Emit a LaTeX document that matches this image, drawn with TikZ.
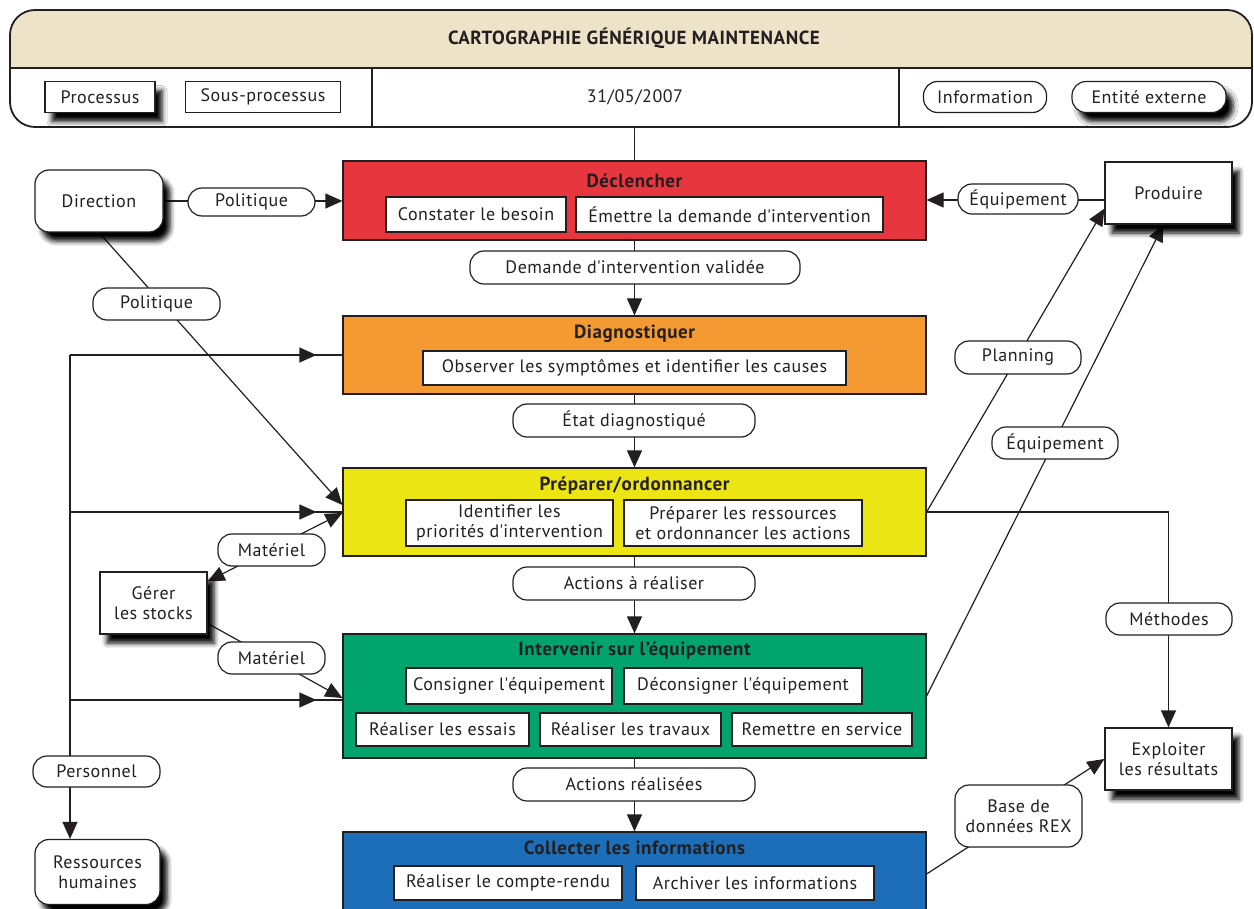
\documentclass[tikz,border=0pt]{standalone}
\usepackage{fontspec}
\setmainfont{PT Sans}[LetterSpace=3]
\usetikzlibrary{arrows.meta,calc,shadows.blur,decorations.markings}

\definecolor{ink}{HTML}{231F20}
\definecolor{beige}{HTML}{EDE3C8}
\definecolor{cRed}{HTML}{E8363F}
\definecolor{cOrange}{HTML}{F49A33}
\definecolor{cYellow}{HTML}{ECE514}
\definecolor{cGreen}{HTML}{00A46C}
\definecolor{cBlue}{HTML}{1B6EB7}

\newcommand{\aq}{\textquotesingle}

\pgfdeclarelayer{bg}
\pgfsetlayers{bg,main}

\tikzset{
  base/.style={draw=ink, line width=1.2pt, fill=white, inner sep=0pt, align=center,
    text=ink, font=\fontsize{18}{20.5}\selectfont},
  shad/.style={blur shadow={shadow xshift=7pt, shadow yshift=-9pt,
    shadow blur radius=5pt, shadow opacity=100}},
  proc/.style={base, shad},
  sub/.style={base},
  info/.style={base, rounded corners=14pt},
  ext/.style={base, rounded corners=14pt, shad},
  main/.style={draw=ink, line width=1.2pt, inner sep=0pt},
  ttl/.style={text=ink, font=\bfseries\fontsize{19}{21}\selectfont},
  sz/.style 2 args={minimum width=#1pt, minimum height=#2pt},
  link/.style={draw=ink, line width=1.2pt},
  arr/.style={link, -{Triangle[length=17pt,width=15pt]}},
  arrboth/.style={link, {Triangle[length=17pt,width=15pt]}-{Triangle[length=17pt,width=15pt]}},
  midarr/.style={link, postaction={decorate}, decoration={markings,
    mark=at position #1 with {\arrow{Triangle[length=17pt,width=15pt]}}}},
}

\begin{document}
\begin{tikzpicture}[x=1pt,y=-1pt]
  \useasboundingbox (0,0) rectangle (1254,909);

  % header
  \fill[white, rounded corners=25pt] (10,10) rectangle (1252,127);
  \begin{scope}
    \clip[rounded corners=25pt] (10,10) rectangle (1252,127);
    \fill[beige] (10,10) rectangle (1252,68);
  \end{scope}
  \draw[ink, line width=1.8pt, rounded corners=25pt] (10,10) rectangle (1252,127);
  \draw[ink, line width=1.5pt] (10,68) -- (1252,68) (372,68) -- (372,127) (899,68) -- (899,127);
  \node[ttl] (title) at (634,38) {CARTOGRAPHIE GÉNÉRIQUE MAINTENANCE};
  \coordinate (hdr) at (634.5,127);

  % legend
  \node[proc, sz={110}{31}] (legProc) at (100,97) {Processus};
  \node[sub, sz={155}{31}] (legSub) at (263,97) {Sous-processus};
  \node[text=ink, font=\fontsize{18}{20.5}\selectfont] (date) at (635,97) {31/05/2007};
  \node[info, sz={123}{31}] (legInfo) at (985,97) {Information};
  \node[ext, sz={154}{31}] (legExt) at (1149,97) {Entité externe};

  % main processes
  \node[main, fill=cRed, sz={583}{79}] (decl) at (634.5,200.5) {};
  \node[ttl] (declT) at (634.5,181) {Déclencher};
  \node[sub, sz={180}{35}] (constater) at (476,214.5) {Constater le besoin};
  \node[sub, sz={307}{35}] (emettre) at (729.5,214.5) {Émettre la demande d\aq intervention};

  \node[main, fill=cOrange, sz={583}{78}] (diag) at (634.5,355) {};
  \node[ttl] (diagT) at (634.5,334) {Diagnostiquer};
  \node[sub, sz={423}{34}] (observer) at (634.5,368) {Observer les symptômes et identifier les causes};

  \node[main, fill=cYellow, sz={583}{88}] (prep) at (634.5,512) {};
  \node[ttl] (prepT) at (634.5,486) {Préparer/ordonnancer};
  \node[sub, sz={207}{46}] (identifier) at (509.5,523) {Identifier les\\priorités d\aq intervention};
  \node[sub, sz={238}{46}] (ressources) at (743,523) {Préparer les ressources\\et ordonnancer les actions};

  \node[main, fill=cGreen, sz={583}{124}] (interv) at (634.5,696) {};
  \node[ttl] (intervT) at (634.5,651) {Intervenir sur l’équipement};
  \node[sub, sz={206}{36}] (consigner) at (509,686) {Consigner l\aq équipement};
  \node[sub, sz={238}{36}] (deconsigner) at (743,686) {Déconsigner l\aq équipement};
  \node[sub, sz={173}{33}] (essais) at (442.5,729.5) {Réaliser les essais};
  \node[sub, sz={181}{33}] (travaux) at (630.5,729.5) {Réaliser les travaux};
  \node[sub, sz={180}{33}] (service) at (822,729.5) {Remettre en service};

  \node[main, fill=cBlue, sz={583}{90}] (coll) at (634.5,877) {};
  \node[ttl] (collT) at (634.5,848) {Collecter les informations};
  \node[sub, sz={228}{34}] (compte) at (508,883) {Réaliser le compte-rendu};
  \node[sub, sz={238}{34}] (archiver) at (755,883) {Archiver les informations};

  % flows between processes
  \node[info, sz={330}{33}] (demande) at (635,267.5) {Demande d\aq intervention validée};
  \node[info, sz={242}{33}] (etat) at (634,420.5) {État diagnostiqué};
  \node[info, sz={242}{33}] (aRealiser) at (634,583.5) {Actions à réaliser};
  \node[info, sz={242}{33}] (realisees) at (634,784.5) {Actions réalisées};

  % left side
  \node[ext, sz={128}{62}] (dir) at (99,201) {Direction};
  \node[info, sz={127}{28}] (pol1) at (251.5,202) {Politique};
  \node[info, sz={127}{32}] (pol2) at (156.5,304) {Politique};
  \node[proc, sz={107}{62}] (stocks) at (153.5,603) {Gérer\\les stocks};
  \node[info, sz={107}{32}] (mat1) at (271.5,550) {Matériel};
  \node[info, sz={107}{32}] (mat2) at (271.5,658) {Matériel};
  \node[info, sz={127}{31}] (personnel) at (96.5,771.5) {Personnel};
  \node[ext, sz={125}{65}] (rh) at (97.5,872) {Ressources\\humaines};
  \coordinate (bus) at (70,355);

  % right side
  \node[proc, sz={127}{62}] (prod) at (1168.5,193) {Produire};
  \node[info, sz={120}{30}] (equip1) at (1018,199) {Équipement};
  \node[info, sz={126}{33}] (planning) at (1018,357.5) {Planning};
  \node[info, sz={126}{32}] (equip2) at (1055,443) {Équipement};
  \node[info, sz={126}{32}] (methodes) at (1169,619) {Méthodes};
  \node[proc, sz={127}{62}] (expl) at (1168.5,759) {Exploiter\\les résultats};
  \node[info, sz={127}{62}] (rex) at (1018.5,816) {Base de\\données REX};

  \begin{pgfonlayer}{bg}
    \draw[link] (hdr) -- (decl);
    \draw[arr] (decl) -- (diag);
    \draw[arr] (diag) -- (prep);
    \draw[arr] (prep) -- (interv);
    \draw[arr] (interv) -- (coll);

    \draw[arr] (dir.east) -- (decl.west |- dir.east);
    \draw[arr] (dir.south) -- ($(prep.west)+(0,-7)$);
    \draw[arrboth] ($(stocks.north east)+(0,10)$) -- ($(prep.west)+(0,1)$);
    \draw[arr] ($(stocks.north east)+(0,52)$) -- ($(interv.west)+(0,2)$);
    \draw[midarr=-26pt] (bus) -- (diag.west);
    \draw[midarr=-26pt] (bus |- prep.west) -- (prep.west);
    \draw[midarr=-26pt] ($(bus |- interv.west)+(0,4)$) -- ($(interv.west)+(0,4)$);
    \draw[arr] (bus) -- (bus |- rh.north);

    \path ($(prod.west)+(0,7)$) coordinate (prodIn);
    \draw[arr] (prodIn) -- (decl.east |- prodIn);
    \draw[arr] (prep.east) -- ($(prod.south west)+(0,-16)$);
    \draw[arr] (interv.east) -- ($(prod.south)+(-5,0)$);
    \draw[arr] (prep.east) -| (expl.north);
    \draw[arr] ($(coll.east)+(0,-3)$) -- (expl.west);
  \end{pgfonlayer}
\end{tikzpicture}
\end{document}
